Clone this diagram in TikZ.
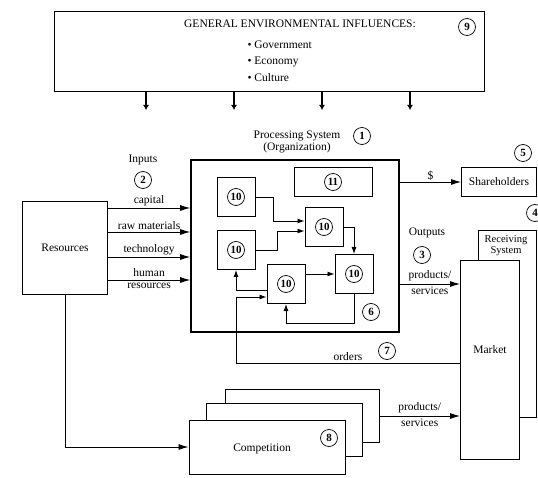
\documentclass[tikz,border=0pt]{standalone}
\usepackage{fontspec}
\setmainfont{Liberation Serif}
\usetikzlibrary{arrows.meta}

\begin{document}
\begin{tikzpicture}[x=1pt,y=-1pt,
  every node/.style={font=\fontsize{11.5}{12}\selectfont},
  box/.style={draw,line width=1pt,fill=white,inner sep=0pt,align=center},
  unitbox/.style={box,minimum width=38pt,minimum height=39pt},
  num/.style={circle,draw,line width=0.7pt,minimum size=17pt,inner sep=0pt,font=\fontsize{11}{11}\selectfont\bfseries},
  lbl/.style={inner sep=1.5pt},
  arr/.style={line width=0.9pt,-{Latex[length=10pt,width=6pt]}},
  arrsmall/.style={line width=0.9pt,-{Latex[length=7pt,width=5pt]}},
  stub/.style={line width=2.6pt,-{Latex[length=5pt,width=6pt]}}]
  \useasboundingbox (0,0) rectangle (538,478);

  % general environment
  \node[box,minimum width=430pt,minimum height=80pt] (env) at (269,52) {};
  \node (envtitle) at (300,24) {GENERAL ENVIRONMENTAL INFLUENCES:};
  \node[num] (n9) at (467,27) {9};
  \node[anchor=west] (gov) at (244,45) {• Government};
  \node[anchor=west] (eco) at (244,62) {• Economy};
  \node[anchor=west] (cul) at (244,78) {• Culture};
  \foreach \x in {146,234,322,410}
    \draw[stub] (env.south -| \x,0) -- (\x,110);

  % processing system
  \node[box,line width=1.6pt,minimum width=208pt,minimum height=172pt] (proc) at (295,246) {};
  \node[align=center] (proclabel) at (297,142) {Processing System\\(Organization)};
  \node[num] (n1) at (362,136) {1};

  \node[unitbox] (ua) at (236,197) {};
  \node[unitbox] (ub) at (236,250) {};
  \node[unitbox] (uc) at (324,227) {};
  \node[unitbox] (ud) at (354,274) {};
  \node[unitbox] (ue) at (286,284) {};
  \node[box,minimum width=78pt,minimum height=29pt] (u11) at (333,182) {};
  \foreach \u in {ua,ub,uc,ud,ue}
    \node[num] at (\u) {10};
  \node[num] at (u11) {11};
  \node[num] (n6) at (371,312) {6};

  \draw[arrsmall] (ua.east) -| (273,221) -- (uc.west |- 0,221);
  \draw[arrsmall] (ub.east) -| (277,231) -- (uc.west |- 0,231);
  \draw[arrsmall] (uc.east) -| (ud.north);
  \draw[arrsmall] (ue.east |- 0,274) -- (ud.west |- 0,274);
  \draw[arrsmall] (ud.south) |- (ue.south |- 0,323) -- (ue.south);
  \draw[arrsmall] (ue.west |- 0,290) -| (ub.south);

  % resources and inputs
  \node[box,minimum width=85pt,minimum height=93pt] (res) at (65,248) {Resources};
  \node (inlabel) at (143,160) {Inputs};
  \node[num] (n2) at (143,180) {2};
  \draw[arr] (res.east |- 0,208) -- (proc.west |- 0,208) node[midway,above,lbl] {capital};
  \draw[arr] (res.east |- 0,232) -- (proc.west |- 0,232) node[midway,above,lbl] {raw materials};
  \draw[arr] (res.east |- 0,257) -- (proc.west |- 0,257) node[midway,above,lbl] {technology};
  \draw[arr] (res.east |- 0,280) -- (proc.west |- 0,280) node[midway,above,inner sep=2.5pt] {human}
    node[midway,below,inner sep=2.5pt] {resources};

  % shareholders
  \node[box,minimum width=75pt,minimum height=29pt] (sh) at (499,182) {Shareholders};
  \node[num] (n5) at (523,153) {5};
  \draw[arr] (proc.east |- sh.west) -- (sh.west) node[midway,above,lbl] {\$};

  % receiving system and market
  \node[box,minimum width=58pt,minimum height=187pt] (recv) at (507,324) {};
  \node[align=center,font=\fontsize{10.5}{11}\selectfont] (recvlabel) at (506,246) {Receiving\\System};
  \node[num] (n4) at (535,213) {4};
  \node[box,minimum width=59pt,minimum height=198pt] (market) at (490,360) {};
  \node (mktlabel) at (490,350) {Market};

  % outputs
  \node (outlabel) at (427,233) {Outputs};
  \node[num] (n3) at (422,255) {3};
  \draw[arr] (proc.east |- 0,284) -- (market.west |- 0,284) node[midway,above,inner sep=2.5pt] {products/}
    node[midway,below,inner sep=2.5pt] {services};

  % orders
  \coordinate (ordcorner) at (236,363);
  \draw[arrsmall] (market.west |- ordcorner) -- (ordcorner) node[midway,above,lbl] {orders}
    |- (ue.west |- 0,297);
  \node[num] (n7) at (387,351) {7};

  % competition
  \node[box,minimum width=154pt,minimum height=53pt] (comp3) at (302,416) {};
  \node[box,minimum width=156pt,minimum height=53pt] (comp2) at (284,430) {};
  \node[box,minimum width=156pt,minimum height=54pt] (comp1) at (267,447) {};
  \node (complabel) at (262,449) {Competition};
  \node[num] (n8) at (329,438) {8};
  \draw[arr] (comp3.east) -- (comp3.east -| market.west) node[midway,above,inner sep=2.5pt] {products/}
    node[midway,below,inner sep=2.5pt] {services};
  \draw[arr] (res.south) |- (comp1.west);
\end{tikzpicture}
\end{document}
